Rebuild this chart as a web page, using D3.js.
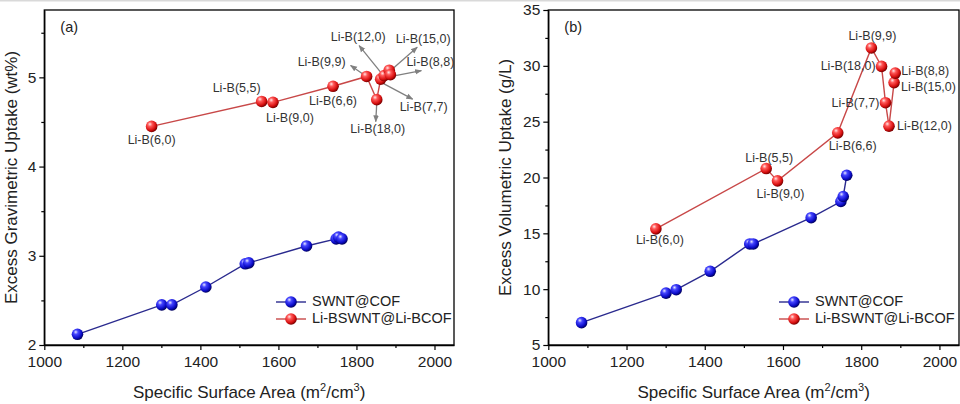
<!DOCTYPE html>
<html><head><meta charset="utf-8">
<script src="https://cdn.jsdelivr.net/npm/d3@7/dist/d3.min.js"></script>
<style>
html,body{margin:0;padding:0;background:#fff;}
svg{display:block;font-family:"Liberation Sans",Arial,sans-serif;}
</style></head>
<body><svg id="chart" width="960" height="404"></svg>
<script>
// ---------- data ----------
const swntNames = ["SWNT1","SWNT2","SWNT3","SWNT4","SWNT5","SWNT6","SWNT7","SWNT8","SWNT9","SWNT10"];
const swntArea = [1085, 1301, 1327, 1414, 1515, 1524, 1672, 1748, 1754, 1763];
const swntGrav = [2.12, 2.45, 2.45, 2.65, 2.91, 2.92, 3.11, 3.19, 3.21, 3.19];
const swntVol  = [7.0, 9.65, 9.95, 11.6, 14.05, 14.05, 16.4, 17.85, 18.3, 20.2];

const liNames = ["Li-B(6,0)","Li-B(5,5)","Li-B(9,0)","Li-B(6,6)","Li-B(9,9)","Li-B(18,0)","Li-B(7,7)","Li-B(12,0)","Li-B(15,0)","Li-B(8,8)"];
const liArea = [1275, 1557, 1586, 1740, 1826, 1852, 1862, 1871, 1884, 1887];
const liGrav = [4.45, 4.73, 4.72, 4.90, 5.01, 4.75, 4.98, 5.02, 5.08, 5.03];
const liVol  = [15.4, 20.8, 19.7, 24.0, 31.6, 29.95, 26.7, 24.6, 28.5, 29.35];

const seriesNames = ["SWNT@COF", "Li-BSWNT@Li-BCOF"];
const xTicks = [1000, 1200, 1400, 1600, 1800, 2000];
const gravTicks = [2, 3, 4, 5];
const volTicks = [5, 10, 15, 20, 25, 30, 35];

// ---------- drawing ----------
const svg = d3.select("#chart");
svg.append("rect").attr("x",0).attr("y",0).attr("width",960).attr("height",1.5).attr("fill","#d9d9d9");

const defs = svg.append("defs");
function grad(id, c0, c1, c2, c3){
  const g = defs.append("radialGradient").attr("id",id).attr("cx","38%").attr("cy","35%").attr("r","65%").attr("fx","35%").attr("fy","30%");
  g.append("stop").attr("offset","0%").attr("stop-color",c0);
  g.append("stop").attr("offset","30%").attr("stop-color",c1);
  g.append("stop").attr("offset","75%").attr("stop-color",c2);
  g.append("stop").attr("offset","100%").attr("stop-color",c3);
}
grad("gBlue","#e8e8ff","#4545ff","#0c0cc8","#000060");
grad("gRed","#ffe6e6","#ff5858","#d81010","#7a0000");
const arrowM = defs.append("marker").attr("id","arr").attr("viewBox","0 0 10 10").attr("refX",9).attr("refY",5)
  .attr("markerWidth",7).attr("markerHeight",7).attr("orient","auto").attr("markerUnits","userSpaceOnUse");
arrowM.append("path").attr("d","M0,1 L10,5 L0,9 Z").attr("fill","#808080");

const blueLine = "#2a2a8e", redLine = "#c84848";

function panel(opt){
  const g = svg.append("g");
  const x = d3.scaleLinear().domain([1000, 2050]).range([opt.left, opt.right]);
  const y = d3.scaleLinear().domain(opt.yDomain).range([345, 10]);
  g.append("rect").attr("x",opt.left).attr("y",10).attr("width",opt.right-opt.left).attr("height",335)
    .attr("fill","none").attr("stroke","#000").attr("stroke-width",1.3);
  const ax = g.append("g").attr("transform","translate(0,345)")
    .call(d3.axisBottom(x).tickValues(xTicks).tickSize(5).tickSizeOuter(0).tickPadding(6).tickFormat(d3.format("d")));
  const axm = g.append("g").attr("transform","translate(0,345)")
    .call(d3.axisBottom(x).tickValues(d3.range(1100,2050,200)).tickSize(3).tickFormat(""));
  const ay = g.append("g").attr("transform",`translate(${opt.left},0)`)
    .call(d3.axisLeft(y).tickValues(opt.yTicks).tickSize(5).tickSizeOuter(0).tickPadding(3).tickFormat(d3.format("d")));
  const aym = g.append("g").attr("transform",`translate(${opt.left},0)`)
    .call(d3.axisLeft(y).tickValues(opt.yMinor).tickSize(3).tickFormat(""));
  [ax,axm,ay,aym].forEach(a=>{
    a.selectAll(".domain").attr("stroke","#000").attr("stroke-width",1.3);
    a.selectAll(".tick line").attr("stroke","#000").attr("stroke-width",1.2);
    a.selectAll(".tick text").attr("font-size",15.5).attr("fill","#222").attr("font-family","Liberation Sans, Arial, sans-serif");
  });
  axm.select(".domain").remove(); aym.select(".domain").remove();
  const xt = g.append("text").attr("x",(opt.left+opt.right)/2).attr("y",398).attr("text-anchor","middle")
    .attr("font-size",17).attr("fill","#222");
  xt.append("tspan").text("Specific Surface Area (m");
  xt.append("tspan").text("2").attr("font-size",11).attr("dy",-7);
  xt.append("tspan").text("/cm").attr("dy",7);
  xt.append("tspan").text("3").attr("font-size",11).attr("dy",-7);
  xt.append("tspan").text(")").attr("dy",7);
  g.append("text").attr("transform",`translate(${opt.yTitleX},177.5) rotate(-90)`).attr("text-anchor","middle")
    .attr("dominant-baseline","middle").attr("font-size",17).attr("fill","#222").text(opt.yTitle);
  g.append("text").attr("x",opt.left+16).attr("y",32).attr("font-size",14.5).attr("fill","#222").text(opt.tag);

  const series = [
    {xs: swntArea, ys: opt.blueY, color: blueLine, fill:"url(#gBlue)"},
    {xs: liArea, ys: opt.redY, color: redLine, fill:"url(#gRed)"}
  ];
  const line = d3.line().x(d=>x(d[0])).y(d=>y(d[1]));
  series.forEach(s=>{
    const pts = s.xs.map((v,i)=>[v, s.ys[i]]);
    g.append("path").attr("d",line(pts)).attr("fill","none").attr("stroke",s.color).attr("stroke-width",1.4);
  });
  liNames.forEach((name,i)=>{
    const px = x(liArea[i]), py = y(opt.redY[i]);
    const a = opt.labels[name];
    if (a.arrow){
      g.append("line").attr("x1",px+a.arrow[0]).attr("y1",py+a.arrow[1]).attr("x2",px+a.arrow[2]).attr("y2",py+a.arrow[3])
        .attr("stroke","#808080").attr("stroke-width",1.3).attr("marker-end","url(#arr)");
    }
  });
  series.forEach(s=>{
    g.selectAll(null).data(s.xs.map((v,i)=>[v, s.ys[i]])).enter().append("circle")
      .attr("cx",d=>x(d[0])).attr("cy",d=>y(d[1])).attr("r",5.8).attr("fill",s.fill);
  });
  liNames.forEach((name,i)=>{
    const px = x(liArea[i]), py = y(opt.redY[i]);
    const a = opt.labels[name];
    g.append("text").attr("x",px+a.dx).attr("y",py+a.dy).attr("text-anchor",a.anchor||"middle")
      .attr("dominant-baseline","middle").attr("font-size",12.5).attr("fill","#333").text(name);
  });
  seriesNames.forEach((n,i)=>{
    const ly = 302 + i*17, lx = opt.legendX;
    g.append("line").attr("x1",lx).attr("x2",lx+30).attr("y1",ly).attr("y2",ly).attr("stroke",series[i].color).attr("stroke-width",1.4);
    g.append("circle").attr("cx",lx+15).attr("cy",ly).attr("r",5.8).attr("fill",series[i].fill);
    g.append("text").attr("x",lx+36).attr("y",ly).attr("dominant-baseline","middle").attr("font-size",14.5).attr("fill","#222").text(n);
  });
}

panel({
  left: 44.3, right: 454, yDomain: [2, 5.755], yTicks: gravTicks, yMinor: [2.5,3.5,4.5,5.5],
  blueY: swntGrav, redY: liGrav, yTitle: "Excess Gravimetric Uptake (wt%)", yTitleX: 13, tag: "(a)", legendX: 276,
  labels: {
    "Li-B(6,0)": {dx:0, dy:14},
    "Li-B(5,5)": {dx:-25, dy:-13},
    "Li-B(9,0)": {dx:17, dy:16},
    "Li-B(6,6)": {dx:0, dy:15},
    "Li-B(9,9)": {dx:-45, dy:-14, arrow:[-3,-2,-16,-11]},
    "Li-B(18,0)": {dx:1, dy:30, arrow:[0,4,-1,22]},
    "Li-B(7,7)": {dx:43, dy:29, arrow:[2,4,32,20]},
    "Li-B(12,0)": {dx:-26, dy:-38, arrow:[-4,-4,-25,-30]},
    "Li-B(15,0)": {dx:34, dy:-31, arrow:[4,-2,28,-23]},
    "Li-B(8,8)": {dx:40, dy:-12, arrow:[5,1,31,-4]}
  }
});
panel({
  left: 548.3, right: 959, yDomain: [5, 35], yTicks: volTicks, yMinor: [7.5,12.5,17.5,22.5,27.5,32.5],
  blueY: swntVol, redY: liVol, yTitle: "Excess Volumetric Uptake (g/L)", yTitleX: 507, tag: "(b)", legendX: 779,
  labels: {
    "Li-B(6,0)": {dx:4, dy:12},
    "Li-B(5,5)": {dx:3, dy:-10},
    "Li-B(9,0)": {dx:3, dy:14},
    "Li-B(6,6)": {dx:15, dy:14},
    "Li-B(9,9)": {dx:1, dy:-11},
    "Li-B(18,0)": {dx:-6, dy:0, anchor:"end"},
    "Li-B(7,7)": {dx:-6, dy:1, anchor:"end"},
    "Li-B(12,0)": {dx:8, dy:1, anchor:"start"},
    "Li-B(15,0)": {dx:7, dy:5, anchor:"start"},
    "Li-B(8,8)": {dx:6, dy:-1, anchor:"start"}
  }
});
</script></body></html>
